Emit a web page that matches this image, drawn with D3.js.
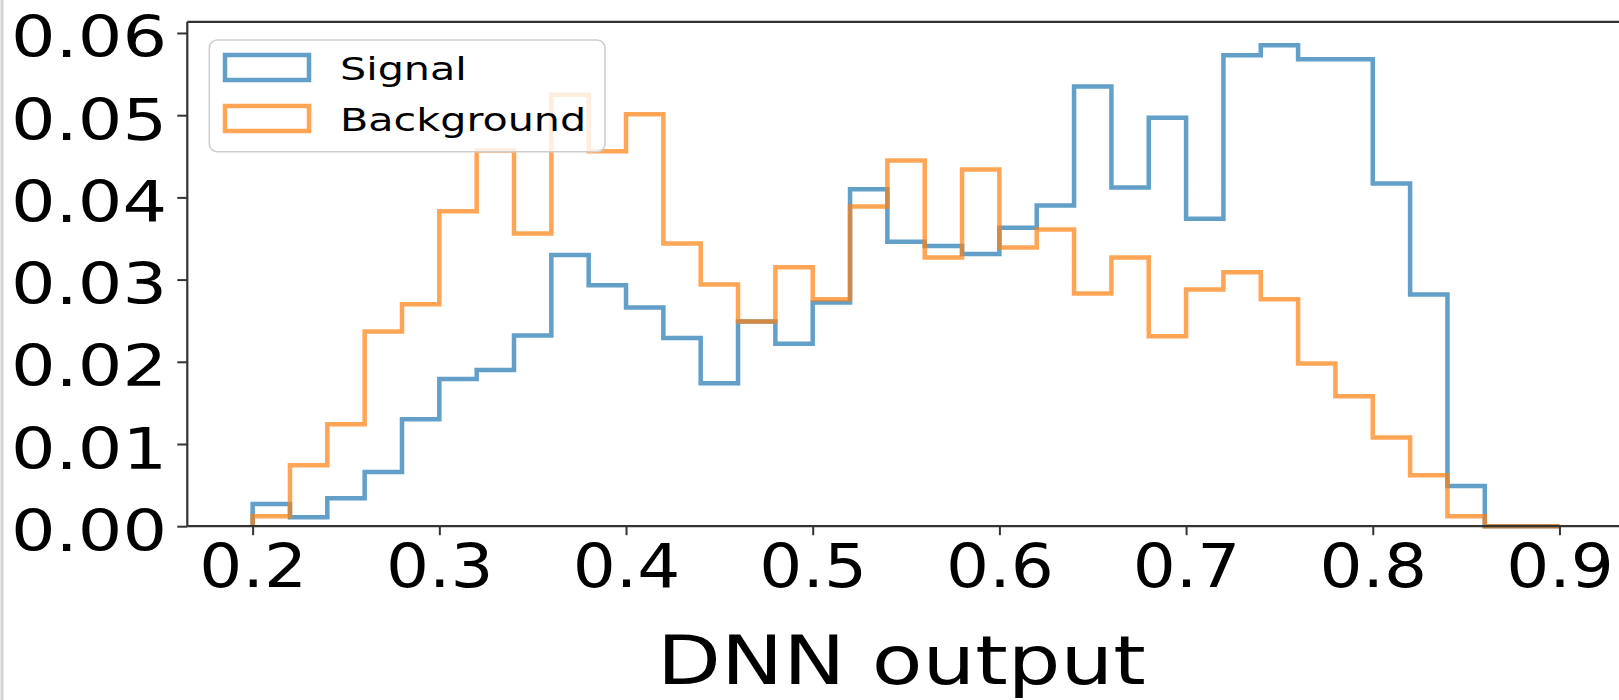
<!DOCTYPE html>
<html>
<head>
<meta charset="utf-8">
<script src="https://cdn.jsdelivr.net/npm/d3@7"></script>
<style>
  html, body { margin: 0; padding: 0; background: #fff; }
  svg { display: block; }
  text { font-family: "DejaVu Sans", sans-serif; fill: #000; }
</style>
</head>
<body>
<svg id="chart" width="1619" height="700"></svg>
<script>
// Histogram bin edges (DNN output) and normalised bin contents
const binEdges = [0.20, 0.22, 0.24, 0.26, 0.28, 0.30, 0.32, 0.34, 0.36, 0.38,
                  0.40, 0.42, 0.44, 0.46, 0.48, 0.50, 0.52, 0.54, 0.56, 0.58,
                  0.60, 0.62, 0.64, 0.66, 0.68, 0.70, 0.72, 0.74, 0.76, 0.78,
                  0.80, 0.82, 0.84, 0.86, 0.88, 0.90];

const signal = [0.0027, 0.0011, 0.0034, 0.0066, 0.0130, 0.0179, 0.0190, 0.0232, 0.0330, 0.0293,
                0.0266, 0.0229, 0.0174, 0.0249, 0.0222, 0.0272, 0.0410, 0.0346, 0.0341, 0.0331,
                0.0363, 0.0390, 0.0535, 0.0412, 0.0497, 0.0374, 0.0573, 0.0585, 0.0568, 0.0568,
                0.0417, 0.0282, 0.0049, 0, 0];

const background = [0.0012, 0.0074, 0.0124, 0.0237, 0.0270, 0.0383, 0.0457, 0.0356, 0.0525, 0.0456,
                    0.0501, 0.0344, 0.0294, 0.0249, 0.0315, 0.0276, 0.0389, 0.0445, 0.0327, 0.0434,
                    0.0339, 0.0361, 0.0283, 0.0327, 0.0231, 0.0288, 0.0309, 0.0276, 0.0198, 0.0158,
                    0.0108, 0.0062, 0.0012, 0, 0];

const xTicks = [0.2, 0.3, 0.4, 0.5, 0.6, 0.7, 0.8, 0.9];
const yTicks = [0.00, 0.01, 0.02, 0.03, 0.04, 0.05, 0.06];

const seriesNames = ["Signal", "Background"];
const seriesColors = ["#1f77b4", "#ff7f0e"];

const svg = d3.select("#chart");

// thin frame line on the far left of the figure
svg.append("line")
  .attr("x1", 2).attr("x2", 2).attr("y1", 0).attr("y2", 700)
  .attr("stroke", "#d4d4d4").attr("stroke-width", 3);

const plotLeft = 187.3, plotRight = 1624.8, plotTop = 21.8, plotBottom = 526.2;

const x = d3.scaleLinear().domain([0.165, 0.935]).range([plotLeft, plotRight]);
const y = d3.scaleLinear().domain([0, 0.06136]).range([plotBottom, plotTop]);

// step outlines, matplotlib histtype="step" style
function stepPoints(values) {
  const pts = [[binEdges[0], 0]];
  values.forEach((v, i) => pts.push([binEdges[i], v]));
  pts.push([binEdges[binEdges.length - 1], 0]);
  return pts;
}
const line = d3.line()
  .x(d => x(d[0]))
  .y(d => y(d[1]))
  .curve(d3.curveStepAfter);

const plot = svg.append("g");
[signal, background].forEach((vals, i) => {
  plot.append("path")
    .attr("d", line(stepPoints(vals)))
    .attr("fill", "none")
    .attr("stroke", seriesColors[i])
    .attr("stroke-opacity", 0.7)
    .attr("stroke-width", 4.5)
    .attr("stroke-linejoin", "miter");
});

// axes
const axisColor = "#333";
const xAxis = svg.append("g")
  .attr("transform", `translate(0,${plotBottom})`)
  .call(d3.axisBottom(x).tickValues(xTicks).tickSize(9).tickSizeOuter(0)
        .tickFormat(d3.format(".1f")));
xAxis.select(".domain").remove();
xAxis.selectAll(".tick line").attr("stroke", axisColor).attr("stroke-width", 2);
xAxis.selectAll(".tick text")
  .attr("y", 61.1).attr("dy", 0)
  .attr("font-size", 61)
  .attr("fill", "#000")
  .attr("transform", "scale(1.11,1)");

const yAxis = svg.append("g")
  .attr("transform", `translate(${plotLeft},0)`)
  .call(d3.axisLeft(y).tickValues(yTicks).tickSize(10).tickSizeOuter(0)
        .tickFormat(d3.format(".2f")));
yAxis.select(".domain").remove();
yAxis.selectAll(".tick line").attr("stroke", axisColor).attr("stroke-width", 2);
yAxis.selectAll(".tick text")
  .attr("x", -16.5).attr("y", 24).attr("dy", 0)
  .attr("font-size", 57)
  .attr("fill", "#000")
  .attr("transform", "scale(1.23,1)");

// spines (right spine falls just outside the canvas)
const spines = svg.append("g").attr("stroke", axisColor).attr("stroke-width", 2.2).attr("fill", "none");
spines.append("line").attr("x1", plotLeft).attr("x2", plotLeft).attr("y1", plotTop).attr("y2", plotBottom);
spines.append("line").attr("x1", plotLeft).attr("x2", plotRight).attr("y1", plotBottom).attr("y2", plotBottom);
spines.append("line").attr("x1", plotLeft).attr("x2", plotRight).attr("y1", plotTop).attr("y2", plotTop);
spines.append("line").attr("x1", plotRight).attr("x2", plotRight).attr("y1", plotTop).attr("y2", plotBottom);

// axis title
svg.append("text")
  .attr("transform", "translate(901.4,683.5) scale(1.24,1)")
  .attr("text-anchor", "middle")
  .attr("font-size", 67)
  .text("DNN output");

// legend
const legend = svg.append("g");
legend.append("rect")
  .attr("x", 209.3).attr("y", 40).attr("width", 395.7).attr("height", 111.7)
  .attr("rx", 8).attr("ry", 8)
  .attr("fill", "#fff").attr("fill-opacity", 0.8)
  .attr("stroke", "#cfcfcf").attr("stroke-width", 1.6);

const legendRows = [55, 106];
seriesNames.forEach((name, i) => {
  legend.append("rect")
    .attr("x", 225).attr("y", legendRows[i])
    .attr("width", 84).attr("height", 25)
    .attr("fill", "none")
    .attr("stroke", seriesColors[i]).attr("stroke-opacity", 0.7)
    .attr("stroke-width", 4.5);
  legend.append("text")
    .attr("transform", `translate(340,${legendRows[i] + 25}) scale(1.29,1)`)
    .attr("font-size", 32)
    .text(name);
});
</script>
</body>
</html>
